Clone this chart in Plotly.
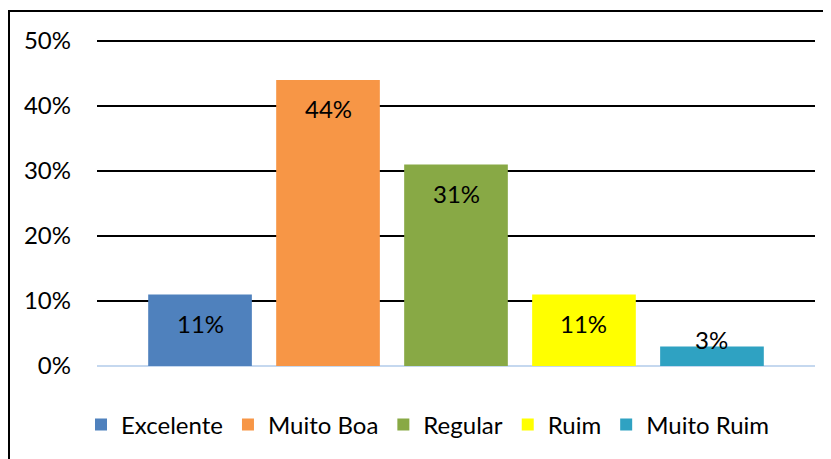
import plotly.graph_objects as go

categories = ["Excelente", "Muito Boa", "Regular", "Ruim", "Muito Ruim"]
values = [0.11, 0.44, 0.31, 0.11, 0.03]
labels = ["11%", "44%", "31%", "11%", "3%"]
colors = ["#4f81bd", "#f79646", "#88a945", "#ffff00", "#2fa2c2"]
y_ticks = [0, 0.1, 0.2, 0.3, 0.4, 0.5]
y_tick_text = ["0%", "10%", "20%", "30%", "40%", "50%"]

FONT = "Lato, Liberation Sans, sans-serif"
FS = 24

fig = go.Figure()
for i, (c, v, col) in enumerate(zip(categories, values, colors)):
    fig.add_trace(go.Bar(
        x=[i], y=[v], name=c, width=0.81,
        marker=dict(color=col, line=dict(width=0)),
        hoverinfo="skip",
    ))

# data labels placed at each bar's value
for i, (v, t) in enumerate(zip(values, labels)):
    shift = -29 if v > 0.05 else 7
    fig.add_annotation(x=i, y=v, text=t, showarrow=False, yshift=shift,
                       yanchor="middle", font=dict(family=FONT, size=FS, color="#000000"))

# page has an 8px body margin; positions below are in page pixels
OFF = 8
W, H = 831, 459
Y_TOP = 0.5046
L, R, B = 97 - OFF, 24, 101
T = int(round(41 - OFF - (Y_TOP - 0.5) * 650))
pw, ph = W - L - R, H - T - B

def px(x):
    return (x - OFF - L) / pw

def py(y):
    return (H - B - (y - OFF)) / ph

fig.add_shape(type="rect", xref="paper", yref="paper",
              x0=px(9), x1=px(845), y0=py(480), y1=py(11),
              line=dict(color="#000000", width=2), fillcolor="rgba(0,0,0,0)", layer="above")

fig.update_layout(
    width=W, height=H,
    margin=dict(l=L, r=R, t=T, b=B, pad=0),
    paper_bgcolor="white", plot_bgcolor="white",
    barmode="overlay",
    showlegend=True,
    legend=dict(orientation="h", x=px(428), xanchor="center", y=py(425), yanchor="middle",
                font=dict(family=FONT, size=FS, color="#000000"), itemclick=False,
                traceorder="normal"),
    font=dict(family=FONT, size=FS, color="#000000"),
    xaxis=dict(range=[-0.805, 4.805], showticklabels=False, showgrid=False, zeroline=False,
               showline=False, ticks=""),
    yaxis=dict(range=[0, Y_TOP], tickvals=y_ticks, ticktext=y_tick_text,
               showgrid=True, gridcolor="#000000", gridwidth=1.5,
               zeroline=True, zerolinecolor="#c5d8ef", zerolinewidth=2,
               showline=False, ticks="", ticklabelstandoff=25,
               tickfont=dict(family=FONT, size=FS, color="#000000")),
)

fig.write_html("out.html")
